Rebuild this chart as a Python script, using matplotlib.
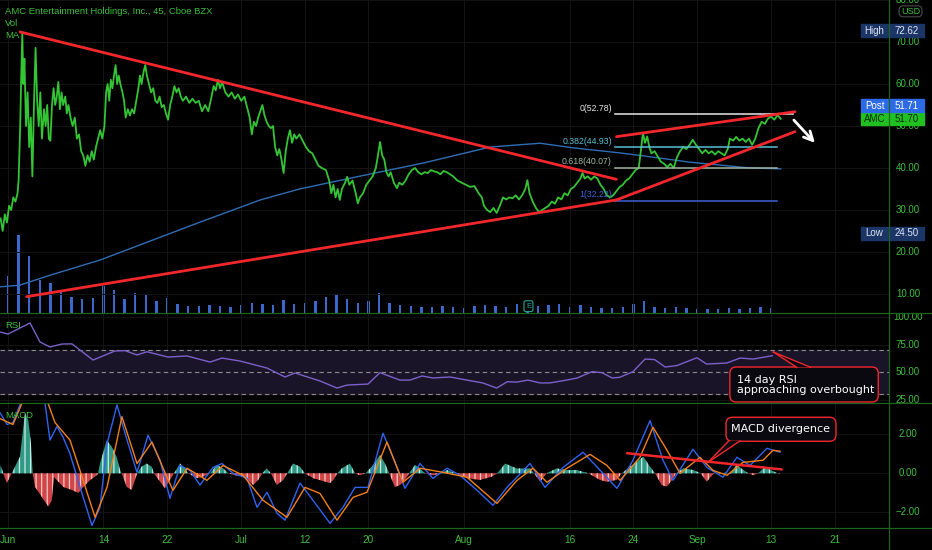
import matplotlib
matplotlib.use('Agg')
import matplotlib.pyplot as plt
from matplotlib.patches import Rectangle, FancyBboxPatch, Polygon
from matplotlib.lines import Line2D
from matplotlib.transforms import blended_transform_factory as blend
import numpy as np

# x is the trading-day index, 0 = Jun 1 2021
date_ticks = [0, 9, 15, 22, 28, 34, 43, 53, 59, 65, 72, 78]
date_labels = ['Jun', '14', '22', 'Jul', '12', '20', 'Aug', '16', '24', 'Sep', '13', '21']

price_ticks = [80, 70, 60, 50, 40, 30, 20, 10]
rsi_ticks = [100, 75, 50, 25]
macd_ticks = [2, 0, -2]

# (day, price) read along the 45 min candles
price_pts = [
    (-0.7, 28), (-0.5, 25), (-0.3, 29), (-0.1, 27), (0.1, 31), (0.3, 30), (0.5, 33), (0.7, 32),
    (0.9, 34), (1.0, 37), (1.15, 50), (1.25, 62), (1.35, 72.1), (1.45, 60), (1.55, 66), (1.7, 50),
    (1.85, 58), (2.0, 45), (2.15, 52), (2.3, 38), (2.45, 55), (2.6, 68.6), (2.75, 56), (2.9, 50),
    (3.05, 58), (3.2, 47), (3.4, 54), (3.55, 50), (3.7, 55), (3.85, 47), (4.0, 46.5), (4.15, 55),
    (4.3, 59), (4.45, 55), (4.6, 57), (4.75, 60.5), (4.9, 54), (5.05, 58), (5.2, 55), (5.4, 57),
    (5.55, 53), (5.7, 55), (5.9, 52), (6.1, 50), (6.3, 52), (6.5, 47), (6.7, 48), (6.9, 44),
    (7.1, 43), (7.3, 40.5), (7.5, 43), (7.7, 41.5), (7.9, 44), (8.1, 42), (8.3, 45), (8.5, 47),
    (8.7, 49), (8.9, 47), (9.1, 50), (9.25, 58), (9.4, 60), (9.55, 56), (9.7, 61), (9.85, 59),
    (10.0, 62), (10.15, 64.5), (10.3, 60), (10.45, 62), (10.6, 60), (10.8, 58), (10.95, 56),
    (11.1, 52), (11.3, 54), (11.5, 52.5), (11.7, 54), (11.9, 53), (12.1, 56), (12.3, 59),
    (12.45, 62), (12.6, 60), (12.8, 63), (12.95, 64.5), (13.1, 62), (13.3, 60), (13.5, 58),
    (13.7, 59), (13.9, 56), (14.1, 55.5), (14.3, 57), (14.5, 54.5), (14.7, 55), (14.9, 53),
    (15.1, 51.5), (15.3, 55), (15.5, 57), (15.7, 59.5), (15.9, 58), (16.1, 59), (16.3, 57),
    (16.5, 56), (16.8, 57), (17.1, 55.5), (17.4, 56.5), (17.7, 55.5), (18.0, 56), (18.3, 53.5),
    (18.6, 55), (18.9, 53.5), (19.2, 57), (19.4, 59.5), (19.6, 58.5), (19.8, 61), (20.0, 59),
    (20.2, 60.5), (20.5, 58), (20.8, 57), (21.1, 58), (21.4, 56.5), (21.7, 57.5), (22.0, 56),
    (22.3, 57), (22.6, 54), (22.8, 52), (23.0, 48), (23.2, 51), (23.4, 50), (23.6, 52),
    (23.8, 53.5), (24.0, 55), (24.2, 52.5), (24.4, 51), (24.6, 50), (24.8, 49.5), (25.0, 50),
    (25.2, 45), (25.4, 43), (25.6, 44.5), (25.8, 42), (26.0, 38.8), (26.2, 44), (26.4, 47),
    (26.6, 49), (26.8, 46), (27.0, 48), (27.2, 47), (27.5, 48), (27.8, 46.5), (28.1, 45),
    (28.4, 44), (28.7, 43.5), (29.0, 42), (29.3, 40.5), (29.6, 40), (30.0, 39.5), (30.3, 37),
    (30.5, 34), (30.7, 36), (30.9, 33), (31.1, 35), (31.3, 32.4), (31.5, 35), (31.8, 36.5),
    (32.0, 37.9), (32.2, 36), (32.5, 37), (32.8, 34), (33.0, 31.6), (33.2, 33), (33.5, 34),
    (33.8, 36), (34.1, 37), (34.4, 38), (34.7, 40), (34.9, 43), (35.1, 46.2), (35.3, 43),
    (35.5, 42), (35.7, 39), (35.9, 38), (36.1, 39), (36.4, 36.5), (36.7, 35.2), (36.9, 36.5),
    (37.2, 36), (37.5, 37), (37.8, 38.5), (38.1, 39.5), (38.4, 40), (38.7, 39), (39.0, 38.5),
    (39.3, 39), (39.6, 38.8), (39.9, 39.5), (40.2, 39.2), (40.5, 39), (40.8, 38.5), (41.1, 39.3),
    (41.4, 39), (41.7, 38.5), (42.0, 38), (42.4, 37), (42.8, 36.5), (43.2, 36), (43.6, 35.5),
    (44.0, 35.7), (44.4, 34), (44.7, 33), (44.9, 31), (45.2, 30), (45.5, 29.5), (45.8, 30.5),
    (46.1, 29.3), (46.4, 31), (46.7, 33), (47.0, 32.5), (47.3, 33), (47.6, 32.8), (47.9, 33.5),
    (48.2, 32.5), (48.5, 33.5), (48.8, 35), (49.0, 37.1), (49.2, 34), (49.5, 32), (49.8, 30.5),
    (50.1, 29.5), (50.4, 30), (50.7, 30.5), (51.0, 31), (51.3, 32), (51.6, 31.5), (51.9, 33),
    (52.2, 32.5), (52.5, 34), (52.8, 33.5), (53.1, 35), (53.4, 35.5), (53.7, 36.5), (54.0, 37.5),
    (54.2, 38.8), (54.4, 37.5), (54.7, 38), (55.0, 37.2), (55.3, 38), (55.6, 37.5), (55.9, 36),
    (56.2, 35), (56.5, 33.5), (56.8, 33), (57.1, 33.5), (57.4, 34.5), (57.7, 35.5), (58.0, 36),
    (58.3, 37), (58.6, 37.5), (58.9, 38.5), (59.2, 39.5), (59.5, 40), (59.7, 44), (59.9, 48.3),
    (60.1, 46), (60.3, 47.5), (60.5, 45), (60.7, 43.5), (61.0, 44), (61.3, 42.7), (61.6, 41.5),
    (61.9, 41), (62.2, 40.2), (62.5, 41), (62.8, 40), (63.1, 42.5), (63.4, 44), (63.7, 45),
    (64.0, 44.5), (64.3, 45.5), (64.6, 46.7), (64.9, 45.5), (65.2, 44.5), (65.5, 43.5),
    (65.8, 44.3), (66.1, 43.5), (66.4, 44), (66.7, 43.2), (67.0, 44), (67.3, 43.5), (67.6, 43),
    (67.9, 44.5), (68.1, 47), (68.4, 46.5), (68.7, 47.4), (69.0, 46.5), (69.3, 47), (69.6, 46.2),
    (69.9, 47), (70.2, 45.5), (70.5, 47), (70.8, 49.5), (71.1, 51), (71.4, 50.5), (71.7, 51.8),
    (72.0, 52.2), (72.3, 51.5), (72.6, 52.6), (72.9, 51.7),
]

ma_t = [-0.75, 1.1, 4.0, 8.7, 13.4, 18.1, 23.8, 27.5, 32.9, 39.2, 45.5, 50.2, 53.3, 57.7, 59.6, 64.3, 70.0, 72.9]
ma_v = [11.7, 12.1, 14.5, 18.1, 22.6, 27.1, 32.4, 35.0, 37.9, 41.2, 45.0, 45.9, 44.8, 43.6, 43.0, 41.4, 40.0, 39.8]

vol = [37, 78, 57, 33, 30, 22, 16, 14, 15, 27, 23, 14, 20, 18, 12, 15, 9, 7, 7, 8,
       7, 6, 8, 10, 9, 8, 13, 9, 10, 12, 16, 19, 14, 10, 12, 20, 10, 8, 7, 6,
       6, 7, 6, 5, 7, 8, 7, 6, 9, 8, 7, 8, 9, 6, 8, 6, 5, 5, 6, 9,
       12, 6, 5, 6, 5, 4, 4, 4, 5, 4, 5, 6, 5]
vol_days = np.arange(len(vol))

high_price, low_price, last_price, post_price = 72.62, 24.50, 51.70, 51.71

fib_ratios = ['0', '0.382', '0.618', '1']
fib_levels = [52.78, 44.93, 40.07, 32.22]
fib_colors = ['#e6e6e6', '#55c0d6', '#9fb5a2', '#3f62d8']

# hand-drawn lines: (x0, x1), (y0, y1)
down_line = ((1.13, 57.4), (72.4, 37.3))
up_line = ((1.76, 57.4), (9.36, 32.4))
channel_low = ((57.4, 74.25), (32.4, 48.65))
channel_high = ((57.4, 74.25), (47.46, 53.4))
arrow_from, arrow_to = (73.96, 51.9), (76.3, 45.5)

rsi_t = [-0.75, 0.0, 2.08, 3.02, 3.96, 5.09, 6.04, 8.02, 10.09, 11.04, 12.17, 13.11, 15.09, 16.89,
         19.06, 20.19, 21.89, 24.43, 26.13, 27.08, 29.43, 31.04, 31.98, 33.96, 35.09, 36.98, 37.92,
         39.06, 40.09, 41.7, 43.3, 44.8, 46.1, 47.1, 48.0, 49.06, 50.2, 51.1, 52.7, 53.7, 55.1,
         56.04, 57.0, 57.7, 58.96, 60.1, 61.0, 62.0, 63.1, 65.0, 65.9, 67.8, 69.06, 70.3, 72.1]
rsi_v = [86.4, 84.6, 94.6, 77.4, 72.9, 75.6, 75.7, 61.1, 69.3, 69.6, 65.7, 68.6, 63.8, 64.8,
         59.3, 62.9, 60.2, 53.9, 45.8, 49.4, 42.2, 35.8, 38.5, 39.4, 49.7, 43.0, 43.0,
         46.7, 44.9, 45.8, 43.0, 40.4, 35.8, 41.5, 41.2, 43.0, 40.4, 40.4, 43.0, 44.9, 50.6,
         49.7, 44.9, 45.5, 50.6, 62.0, 61.5, 54.8, 56.1, 63.2, 57.5, 58.4, 62.9, 62.0, 65.0]

macd_pts = [
    (-0.75, 3.1), (-0.09, 2.5), (0.47, 2.6), (1.13, 3.5), (1.5, 4.6), (2.1, 5.2), (3.0, 4.6),
    (3.49, 3.6), (3.96, 1.7), (4.62, 2.4), (5.19, 1.85), (5.85, 1.0), (6.79, -0.7), (7.92, -2.67),
    (8.68, -1.74), (9.34, 1.5), (10.28, 3.5), (11.23, 1.7), (12.17, 0.05), (13.21, 1.95),
    (14.34, 0.67), (15.28, -1.28), (16.23, 0.4), (17.17, 0.15), (18.11, -0.6), (19.34, 0.3),
    (20.19, 0.5), (21.23, 0.0), (22.55, -0.25), (23.49, -1.74), (24.43, -0.97), (25.38, -2.05),
    (26.13, -2.4), (27.55, -0.5), (28.77, -1.38), (30.38, -2.56), (31.6, -1.74), (32.74, -0.72),
    (33.96, -0.72), (35.38, 2.05), (36.32, 0.82), (37.45, -0.77), (38.87, 0.5), (40.09, -0.26),
    (41.42, 0.26), (42.64, -0.1), (44.25, -0.87), (45.75, -1.64), (47.08, -0.72), (49.25, 0.5),
    (50.66, -0.72), (52.36, 0.3), (54.25, 1.08), (56.13, 0.0), (57.45, -0.77), (58.96, 0.67),
    (60.57, 2.7), (61.79, 0.67), (62.74, -0.36), (64.62, 1.23), (65.94, 0.3), (67.45, -0.2),
    (68.77, 0.82), (70.0, 0.4), (71.6, 1.28), (72.83, 1.08),
]
signal_pts = [
    (-0.75, 2.8), (0.47, 2.5), (1.32, 3.6), (2.08, 5.0), (3.02, 4.6), (3.77, 3.6), (4.43, 2.6),
    (5.85, 1.7), (6.79, 0.15), (8.21, -2.25), (9.34, -0.72), (10.75, 2.9), (12.17, 0.5),
    (13.58, 1.6), (15.0, -0.2), (15.57, -0.87), (16.89, 0.26), (18.77, -0.36), (20.28, 0.4),
    (22.17, -0.1), (24.06, -1.38), (26.32, -2.25), (28.02, -0.72), (29.43, -1.03), (31.04, -2.4),
    (32.55, -1.23), (33.87, -0.97), (35.75, 1.6), (37.26, -0.46), (38.87, 0.26), (41.04, 0.05),
    (43.3, -0.2), (46.13, -1.54), (48.02, -0.36), (49.53, 0.26), (50.85, -0.46), (52.74, 0.26),
    (54.91, 0.97), (56.51, 0.4), (57.74, -0.36), (59.62, 0.82), (60.85, 2.36), (62.17, 1.18),
    (63.4, 0.0), (65.28, 0.82), (66.51, 0.15), (67.83, -0.1), (69.34, 0.56), (71.23, 0.67),
    (72.17, 1.18), (72.83, 1.13),
]
hist_t = [-0.75, -0.7, -0.44, -0.12, 0.35, 1.13, 1.6, 1.92, 2.17, 2.33,
          2.55, 3.18, 3.8, 4.12, 4.34, 4.6, 5.22, 6.0, 6.64, 7.1,
          7.74, 8.37, 8.5, 8.68, 9.31, 9.78, 10.25, 10.57, 10.73, 11.2,
          11.67, 12.08, 12.2, 12.6, 13.08, 13.55, 13.77, 14.34, 14.81, 15.28,
          15.66, 16.23, 16.7, 17.0, 17.8, 18.42, 19.06, 19.69, 20.3, 20.8,
          21.4, 22.2, 23.14, 23.6, 24.0, 24.4, 24.8, 25.35, 25.97, 26.35,
          26.9, 27.55, 28.0, 28.8, 30.38, 30.7, 31.07, 31.48, 32.26, 32.74,
          33.2, 33.74, 34.3, 35.1, 35.57, 35.97, 36.5, 36.98, 37.45, 37.83,
          38.4, 38.87, 39.34, 40.1, 40.9, 41.4, 42.3, 43.27, 44.53, 45.63,
          46.16, 46.9, 47.99, 49.25, 49.62, 50.2, 50.8, 51.76, 52.7, 53.65,
          54.75, 55.85, 56.48, 57.42, 57.9, 58.68, 59.94, 60.57, 61.04, 61.67,
          62.14, 62.76, 63.02, 63.71, 64.65, 65.35, 65.91, 66.6, 67.8, 68.1,
          68.74, 69.37, 69.84, 70.3, 70.78, 71.4, 72.2, 72.83]
hist_v = [0.0, 0.43, 0.0, -0.5, 0.0, 0.85, 3.1, 2.7, 1.5, 0.0,
          -0.7, -1.2, -1.7, -1.4, -0.2, -0.35, -0.7, -0.85, -1.0, -0.7,
          -0.35, -0.1, 0.0, 0.5, 1.7, 1.37, 0.85, 0.17, 0.0, -0.7,
          -0.85, -0.17, 0.0, 0.34, 0.5, 0.34, 0.0, -0.43, -0.77, -0.34,
          0.0, 0.5, 0.25, 0.0, -0.25, -0.17, 0.0, 0.43, 0.25, 0.0,
          -0.1, -0.15, -0.6, -0.34, 0.0, 0.25, 0.0, -0.6, -0.34, 0.0,
          0.5, 0.34, 0.0, -0.25, -0.5, -0.34, 0.0, 0.25, 0.5, 0.0,
          -0.1, 0.0, 0.34, 0.94, 0.5, 0.0, -0.7, -0.6, -0.34, 0.0,
          0.43, 0.25, 0.0, -0.1, 0.0, 0.17, 0.0, -0.25, -0.34, -0.17,
          0.0, 0.5, 0.25, 0.25, 0.0, -0.43, 0.0, 0.25, 0.17, 0.17,
          0.0, -0.34, -0.43, -0.34, 0.0, 0.34, 0.85, 0.34, 0.0, -0.6,
          -0.68, -0.26, 0.0, 0.26, 0.17, 0.0, -0.43, 0.0, 0.03, 0.0,
          0.43, 0.17, 0.0, -0.1, 0.0, 0.34, 0.1, -0.05]
div_line = ((58.4, 73.0), (1.03, 0.2))

# ---- layout (pixels of the 932x550 screenshot) ----
W, H = 932, 550
X0, DX = 8.0, 10.6          # pixel of day 0, pixels per trading day


def px2day(px):
    return (px - X0) / DX


XMIN, XMAX, XSEP = px2day(0), px2day(W), px2day(889)
GREEN = '#3cbf3c'
GRID = '#141414'
SEP = '#1d641d'
RED = '#f2272c'

plt.rcParams['font.family'] = ['Liberation Sans', 'DejaVu Sans']
plt.rcParams['hatch.linewidth'] = 0.9

fig = plt.figure(figsize=(W / 100, H / 100), dpi=100, facecolor='black')
ax = fig.add_axes([0, 1 - 313 / H, 1, 313 / H])
rsi_ax = fig.add_axes([0, 1 - 403 / H, 1, 90 / H])
macd_ax = fig.add_axes([0, 1 - 528 / H, 1, 125 / H])

ax.set_ylim(80 - 313 / 4.2, 80)
rsi_ax.set_ylim(22.3, 103.6)
macd_ax.set_ylim(-2.8, 3.6)
for a in (ax, rsi_ax, macd_ax):
    a.set_xlim(XMIN, XMAX)
    a.set_facecolor('black')
    a.set_axis_off()
    for t in date_ticks:
        a.plot([t, t], [a.get_ylim()[0], a.get_ylim()[1]], color=GRID, lw=0.7, zorder=0)


def right_labels(a, ticks, fmt):
    tr = blend(a.transAxes, a.transData)
    for v in ticks:
        a.hlines(v, XMIN, XSEP, color=GRID, lw=0.7, zorder=0)
        a.text(908 / W, v, fmt(v), transform=tr, ha='center', va='center',
               color=GREEN, fontsize=7, clip_on=True, zorder=5)


right_labels(ax, price_ticks, lambda v: f'{v:.2f}')
right_labels(rsi_ax, rsi_ticks, lambda v: f'{v:.2f}')
right_labels(macd_ax, macd_ticks, lambda v: f'{v:.2f}'.replace('-', '\u2212'))

# ---- main pane ----
vax = ax.twinx()
vax.set_ylim(0, max(vol) * 4.0)
vax.set_axis_off()
vax.bar(vol_days, vol, width=0.22, color='#3a68cc', zorder=1)
ax.set_zorder(vax.get_zorder() + 1)
ax.patch.set_visible(False)

ax.plot(ma_t, ma_v, color='#2f6db5', lw=1.0, zorder=2)
pt, pv = zip(*price_pts)
ax.plot(pt, pv, color='#34c534', lw=1.3, zorder=3)

for (xs, ys) in (down_line, up_line, channel_low, channel_high):
    ax.plot(xs, ys, color=RED, lw=2.0, solid_capstyle='round', zorder=4)

for r, lvl, c in zip(fib_ratios, fib_levels, fib_colors):
    end = 74.06 if r == '0' else 72.5
    ax.plot([57.26, end], [lvl, lvl], color=c, lw=1.1, zorder=3)
    ax.text(px2day(612), lvl + 0.3, f'{r}({lvl:.2f})', color=c, fontsize=6.3,
            ha='right', va='bottom', zorder=5)

ax.annotate('', xy=arrow_to, xytext=arrow_from,
            arrowprops=dict(arrowstyle='->', color='white', lw=2.0, mutation_scale=16))

ax.text(49.1, 7.1, 'E', color='#26a69a', fontsize=5.5, ha='center', va='center',
        bbox=dict(boxstyle='round,pad=0.25', fc='black', ec='#26a69a', lw=0.8), zorder=6)

tr_main = blend(ax.transAxes, ax.transData)
TAG_H = 13 / 4.2


def price_tag(y, name, value, bg, fg):
    ax.add_patch(Rectangle((861 / W, y - TAG_H / 2), 27 / W, TAG_H, transform=tr_main,
                           color=bg, zorder=7, clip_on=False))
    ax.add_patch(Rectangle((890 / W, y - TAG_H / 2), 34 / W, TAG_H, transform=tr_main,
                           color=bg, zorder=7, clip_on=False))
    ax.text(874.5 / W, y, name, transform=tr_main, ha='center', va='center',
            color=fg, fontsize=7, zorder=8)
    ax.text(907 / W, y, f'{value:.2f}', transform=tr_main, ha='center', va='center',
            color=fg, fontsize=7, zorder=8)


price_tag(high_price, 'High', high_price, '#1b3566', '#dfe6f2')
price_tag(low_price, 'Low', low_price, '#1b3566', '#dfe6f2')
price_tag(last_price, 'AMC', last_price, '#21c021', '#0b2a0b')
price_tag(last_price + TAG_H, 'Post', post_price, '#2d6ae6', '#ffffff')

ax.add_patch(FancyBboxPatch((899 / W, 76.0), 23 / W, 2.6, transform=tr_main,
                            boxstyle='round,pad=0,rounding_size=0.004', fc='black',
                            ec='#4a4a4a', lw=0.8, zorder=7, mutation_aspect=300))
ax.text(910.5 / W, 77.3, 'USD', transform=tr_main, ha='center', va='center',
        color=GREEN, fontsize=6.5, zorder=8)

for i, s in enumerate(['AMC Entertainment Holdings, Inc., 45, Cboe BZX', 'Vol', 'MA']):
    ax.text(5 / W, 1 - (11 + 12 * i) / 313, s, transform=ax.transAxes, ha='left',
            va='center', color=GREEN, fontsize=6.8, zorder=8)

# ---- RSI pane ----
rsi_ax.axhspan(30, 70, xmax=XSEP / XMAX, color='#1a1428', zorder=0)
for lvl in (70, 50, 30):
    rsi_ax.hlines(lvl, XMIN, XSEP, colors='#8c8c8c', lw=0.8, linestyles=(0, (4, 3)), zorder=1)
rsi_ax.plot(rsi_t, rsi_v, color='#7b61c9', lw=1.0, zorder=3)
rsi_ax.text(5 / W, 1 - 12 / 90, 'RSI', transform=rsi_ax.transAxes, color=GREEN,
            fontsize=6.8, ha='left', va='center')


def callout(a, box, tip, base, text, aspect, text_xy, ha):
    (x0, y0, x1, y1) = box
    a.add_patch(FancyBboxPatch((x0, y0), x1 - x0, y1 - y0,
                               boxstyle='round,pad=0,rounding_size=0.6',
                               mutation_aspect=aspect, fc='#0a0910', ec=RED, lw=1.0, zorder=6))
    a.add_patch(Polygon([base[0], tip, base[1]], closed=True, fc='#0a0910', ec='none', zorder=7))
    for b in base:
        a.plot([b[0], tip[0]], [b[1], tip[1]], color=RED, lw=1.0, zorder=8)
    a.text(text_xy[0], text_xy[1], text, color='white', fontsize=8, ha=ha, va='center',
           linespacing=0.95, family='DejaVu Sans', zorder=9)


callout(rsi_ax, (68.1, 23.2, 82.1, 54.8), (72.2, 68.4), [(74.4, 54.6), (75.7, 54.6)],
        '14 day RSI\napproaching overbought', 9.58, (68.77, 38.3), 'left')

# ---- MACD pane ----
ht = np.array(hist_t)
hv = np.array(hist_v)
# striped fill imitates the dense 45 min histogram bars
macd_ax.fill_between(ht, 0, hv, where=hv >= 0, interpolate=True, fc='#2f9a86',
                     ec='#cfe9e2', hatch='|||', lw=0, zorder=2)
macd_ax.fill_between(ht, 0, hv, where=hv <= 0, interpolate=True, fc='#d04545',
                     ec='#f4c9c9', hatch='|||', lw=0, zorder=2)
mt, mv = zip(*macd_pts)
st, sv = zip(*signal_pts)
macd_ax.plot(mt, mv, color='#2f64f0', lw=1.0, zorder=3)
macd_ax.plot(st, sv, color='#f57f17', lw=1.0, zorder=3)
macd_ax.plot(div_line[0], div_line[1], color=RED, lw=1.8, solid_capstyle='round', zorder=4)
macd_ax.text(5 / W, 1 - 12 / 125, 'MACD', transform=macd_ax.transAxes, color=GREEN,
             fontsize=6.8, ha='left', va='center', zorder=5)
callout(macd_ax, (67.74, 1.64, 78.11, 2.87), (66.04, 0.56), [(68.0, 1.66), (69.06, 1.66)],
        'MACD divergence', 0.5436, (72.9, 2.25), 'center')

tr_x = blend(macd_ax.transData, macd_ax.transAxes)
for t, lab in zip(date_ticks, date_labels):
    macd_ax.text(t, -12 / 125, lab, transform=tr_x, ha='center', va='center',
                 color=GREEN, fontsize=7.2, clip_on=False)

# pane separators
for ypx in (313, 403, 528):
    fig.add_artist(Line2D([0, 1], [1 - ypx / H] * 2, color=SEP, lw=0.9))
fig.add_artist(Line2D([889 / W] * 2, [1 - 550 / H, 1], color=SEP, lw=0.9))

fig.savefig('out.png', dpi=100, facecolor='black')
